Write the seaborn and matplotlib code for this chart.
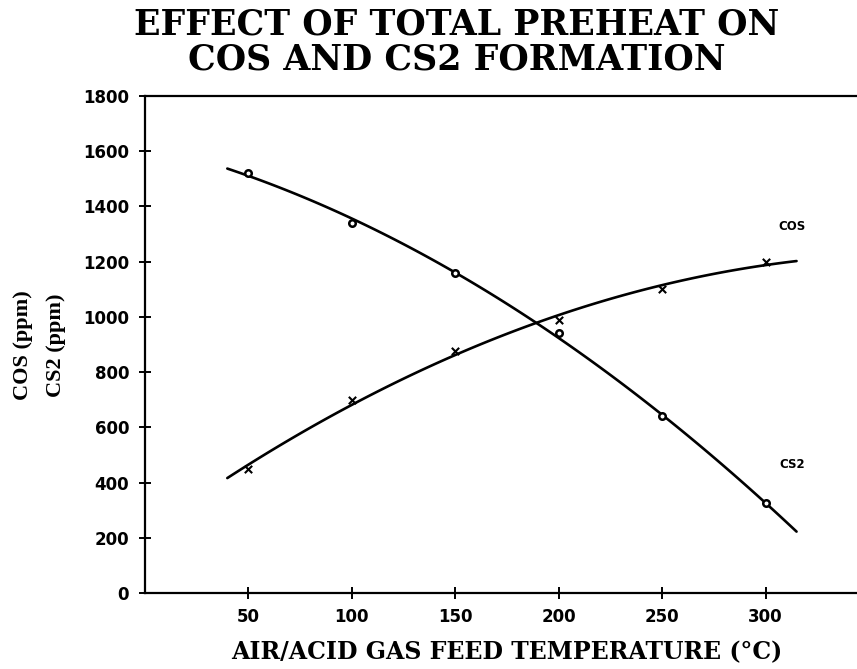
import numpy as np
import pandas as pd
import matplotlib
matplotlib.use("Agg")
import matplotlib.pyplot as plt
import seaborn as sns

# Data
temps = [50, 100, 150, 200, 250, 300]
cos_ppm = [450, 700, 875, 990, 1100, 1200]
cs2_ppm = [1520, 1340, 1160, 940, 640, 325]
x_ticks = [50, 100, 150, 200, 250, 300]
y_ticks = [0, 200, 400, 600, 800, 1000, 1200, 1400, 1600, 1800]
title_lines = ["EFFECT OF TOTAL PREHEAT ON", "COS AND CS2 FORMATION"]
xlabel = "AIR/ACID GAS FEED TEMPERATURE (\u00b0C)"
ylabel_lines = ["COS (ppm)", "CS2 (ppm)"]
fit_range = (40, 315)

df = pd.DataFrame({"T": temps, "COS": cos_ppm, "CS2": cs2_ppm})

sns.set_theme(style="white")
plt.rcParams["font.family"] = ["DejaVu Sans"]
plt.rcParams["text.color"] = "black"

W, H = 857, 669
fig = plt.figure(figsize=(W / 100, H / 100), dpi=100)
x0_px, x_scale = 144.5, 2.07
xmax = 350
ax = fig.add_axes([x0_px / W, 1 - 593 / H, xmax * x_scale / W, (593 - 96) / H])

# fitted curves over the drawn range
ax.set_xlim(*fit_range)
for col in ["COS", "CS2"]:
    sns.regplot(data=df, x="T", y=col, order=2, ci=None, scatter=False,
                truncate=False, ax=ax,
                line_kws=dict(color="black", lw=1.9))

sns.scatterplot(data=df, x="T", y="COS", marker="x", color="black", s=28,
                linewidth=1.5, ax=ax, zorder=5)
sns.scatterplot(data=df, x="T", y="CS2", marker="o", facecolor="white",
                edgecolor="black", s=22, linewidth=1.8, ax=ax, zorder=5)

ax.set_xlim(0, xmax)
ax.set_ylim(0, 1800)
ax.set_xticks(x_ticks)
ax.set_yticks(y_ticks)
ax.set_xlabel("")
ax.set_ylabel("")

for side in ["left", "bottom", "top"]:
    ax.spines[side].set_visible(True)
    ax.spines[side].set_color("black")
    ax.spines[side].set_linewidth(1.6)
ax.spines["right"].set_visible(False)

ax.tick_params(axis="both", which="major", direction="inout", length=8,
               width=1.4, color="black", bottom=True, left=True,
               top=False, right=False, pad=7)
for lab in ax.get_xticklabels() + ax.get_yticklabels():
    lab.set_fontsize(12)
    lab.set_fontweight("bold")
    lab.set_color("black")

ax.text(313, 1326, "COS", fontsize=8.5, fontweight="bold", ha="center",
        va="center", color="black")
ax.text(313, 467, "CS2", fontsize=8.5, fontweight="bold", ha="center",
        va="center", color="black")

slab = ["DejaVu Serif"]
fig.text(457 / W, 1 - 42 / H, "\n".join(title_lines), fontsize=25,
         fontweight="bold", family=slab, ha="center", va="center",
         linespacing=1.05, multialignment="center", color="black")
fig.text(507 / W, 1 - 652 / H, xlabel, fontsize=17, fontweight="bold",
         family=slab, ha="center", va="center", color="black")

serif = ["Liberation Serif", "DejaVu Serif"]
fig.text(23 / W, 1 - 345 / H, ylabel_lines[0], fontsize=16, family=serif,
         fontweight="bold", rotation=90, ha="center", va="center",
         color="black")
fig.text(56 / W, 1 - 345 / H, ylabel_lines[1], fontsize=16, family=serif,
         fontweight="bold", rotation=90, ha="center", va="center",
         color="black")

fig.savefig("out.png", dpi=100)
